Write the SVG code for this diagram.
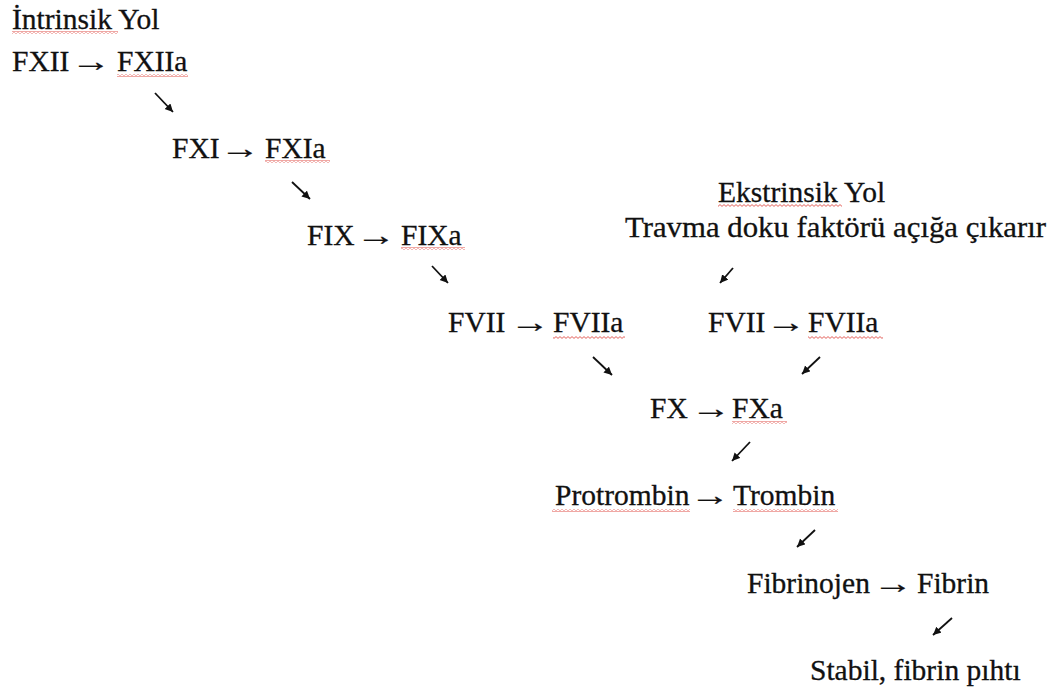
<svg xmlns="http://www.w3.org/2000/svg" width="1048" height="691" viewBox="0 0 1048 691">
<defs>
<pattern id="sq" patternUnits="userSpaceOnUse" width="4" height="3">
<path d="M0 0.6 L2 2.4 L4 0.6" fill="none" stroke="#e0504a" stroke-width="0.9"/>
</pattern>
<marker id="ah" markerUnits="userSpaceOnUse" markerWidth="10" markerHeight="10" refX="8" refY="4" orient="auto">
<path d="M0 0 L8 4 L0 8 Z" fill="#111"/>
</marker>
<style>
text{font-family:"Liberation Serif","Times New Roman",serif;font-size:29.5px;fill:#111;stroke:#111;stroke-width:0.3}
.s{fill:url(#sq)}
.c line{stroke:#111;stroke-width:1.8;marker-end:url(#ah)}
</style>
</defs>
<rect width="1048" height="691" fill="#fff"/>
<g id="intrinsik">
<text x="12" y="29">İntrinsik Yol</text>
<rect class="s" x="12" y="31" width="106" height="3"/>
</g>
<g id="fxii">
<text x="12" y="71">FXII</text>
<text transform="translate(71 71) scale(1.35 1)">→</text>
<text x="117" y="71">FXIIa</text>
<rect class="s" x="117" y="74" width="71" height="3"/>
</g>
<g id="fxi">
<text x="172" y="158">FXI</text>
<text transform="translate(220 158) scale(1.35 1)">→</text>
<text x="265" y="158">FXIa</text>
<rect class="s" x="265" y="160" width="65" height="3"/>
</g>
<g id="fix">
<text x="307" y="245">FIX</text>
<text transform="translate(356 245) scale(1.35 1)">→</text>
<text x="401" y="245">FIXa</text>
<rect class="s" x="401" y="247" width="64" height="3"/>
</g>
<g id="ekstrinsik">
<text x="718" y="202">Ekstrinsik Yol</text>
<rect class="s" x="718" y="204" width="124" height="3"/>
</g>
<g id="travma">
<text x="625" y="237" textLength="421" lengthAdjust="spacingAndGlyphs">Travma doku faktörü açığa çıkarır</text>
</g>
<g id="fvii-left">
<text x="448" y="332">FVII</text>
<text transform="translate(510 332) scale(1.35 1)">→</text>
<text x="553" y="332">FVIIa</text>
<rect class="s" x="553" y="336" width="72" height="3"/>
</g>
<g id="fvii-right">
<text x="708" y="332">FVII</text>
<text transform="translate(766 332) scale(1.35 1)">→</text>
<text x="808" y="332">FVIIa</text>
<rect class="s" x="808" y="336" width="75" height="3"/>
</g>
<g id="fx">
<text x="650" y="418">FX</text>
<text transform="translate(691 418) scale(1.35 1)">→</text>
<text x="732" y="418">FXa</text>
<rect class="s" x="732" y="421" width="55" height="3"/>
</g>
<g id="protrombin">
<text x="555" y="505">Protrombin</text>
<text transform="translate(690 505) scale(1.35 1)">→</text>
<text x="733" y="505">Trombin</text>
<rect class="s" x="552" y="509" width="138" height="3"/>
<rect class="s" x="733" y="509" width="105" height="3"/>
</g>
<g id="fibrinojen">
<text x="747" y="593">Fibrinojen</text>
<text transform="translate(873 593) scale(1.35 1)">→</text>
<text x="917" y="593">Fibrin</text>
</g>
<g id="stabil">
<text x="810" y="680">Stabil, fibrin pıhtı</text>
</g>
<g id="connectors" class="c">
<line x1="155" y1="93" x2="173" y2="112"/>
<line x1="292" y1="182" x2="310" y2="199"/>
<line x1="432" y1="266" x2="448" y2="283"/>
<line x1="733" y1="268" x2="720" y2="283"/>
<line x1="593" y1="357" x2="612" y2="375"/>
<line x1="820" y1="357" x2="802" y2="374"/>
<line x1="750" y1="442" x2="732" y2="461"/>
<line x1="815" y1="530" x2="797" y2="547"/>
<line x1="952" y1="618" x2="933" y2="635"/>
</g>
</svg>
